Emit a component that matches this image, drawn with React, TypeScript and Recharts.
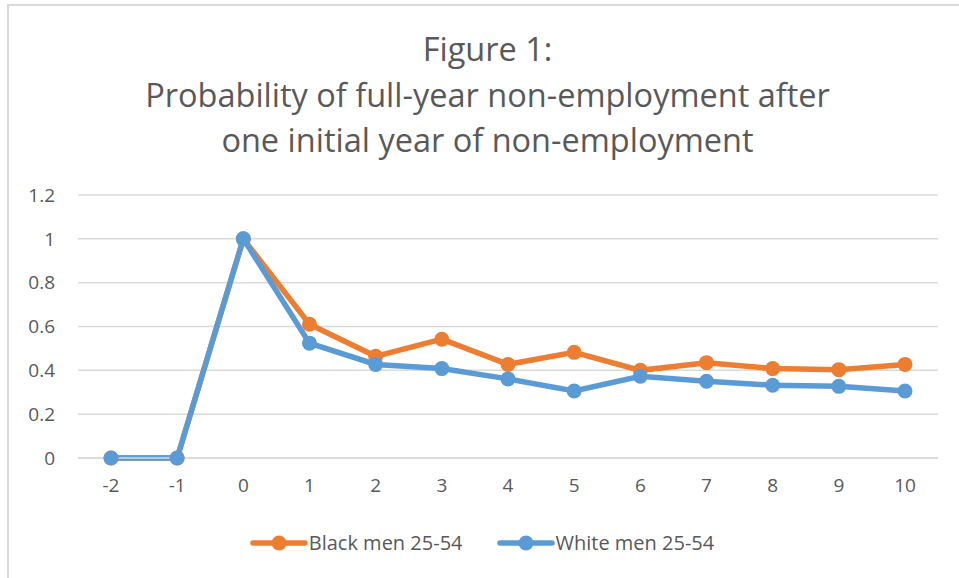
import React from "react";
import { LineChart, Line, XAxis, YAxis, CartesianGrid, Legend } from "recharts";

const years = ["-2", "-1", "0", "1", "2", "3", "4", "5", "6", "7", "8", "9", "10"];
const blackMen = [0, 0, 1, 0.61, 0.464, 0.542, 0.427, 0.482, 0.4, 0.435, 0.408, 0.403, 0.427];
const whiteMen = [0, 0, 1, 0.524, 0.427, 0.408, 0.361, 0.306, 0.373, 0.35, 0.332, 0.327, 0.306];
const yTicks = [0, 0.2, 0.4, 0.6, 0.8, 1, 1.2];

const data = years.map((year, i) => ({
  year,
  black: blackMen[i],
  white: whiteMen[i],
}));

const ORANGE = "#ED7D31";
const BLUE = "#5B9BD5";
const FONT = "'Open Sans', 'Noto Sans', sans-serif";

function LegendItem({ color, label }: { color: string; label: string }) {
  return (
    <div style={{ display: "flex", alignItems: "center", marginRight: 34 }}>
      <svg width={58} height={18}>
        <line x1={3} y1={9} x2={55} y2={9} stroke={color} strokeWidth={5.5} strokeLinecap="round" />
        <circle cx={29} cy={9} r={7.5} fill={color} />
      </svg>
      <span style={{ fontSize: 20, color: "#595959", marginLeft: 1 }}>{label}</span>
    </div>
  );
}

function renderLegend() {
  return (
    <div
      style={{
        display: "flex",
        justifyContent: "center",
        fontFamily: FONT,
        marginLeft: 60,
        paddingTop: 14,
      }}
    >
      <LegendItem color={ORANGE} label="Black men 25-54" />
      <LegendItem color={BLUE} label="White men 25-54" />
    </div>
  );
}

export default function App() {
  return (
    <div
      style={{
        position: "absolute",
        left: 0,
        top: 0,
        width: 959,
        height: 578,
        background: "#fff",
        overflow: "hidden",
        fontFamily: FONT,
      }}
    >
      <div
        style={{
          position: "absolute",
          left: 7,
          top: 4,
          width: 960,
          height: 580,
          borderTop: "2px solid #d9d9d9",
          borderLeft: "2px solid #d9d9d9",
        }}
      />
      <div
        style={{
          position: "absolute",
          left: 16,
          top: 26,
          width: 943,
          textAlign: "center",
          fontSize: 32.5,
          lineHeight: "45.5px",
          color: "#595959",
        }}
      >
        Figure 1:
        <br />
        Probability of full-year non-employment after
        <br />
        one initial year of non-employment
      </div>
      <div style={{ position: "absolute", left: 0, top: 0 }}>
        <LineChart
          width={959}
          height={578}
          data={data}
          margin={{ top: 195, right: 21, bottom: 0, left: 0 }}
        >
          <CartesianGrid vertical={false} stroke="#d9d9d9" strokeWidth={1.5} />
          <XAxis
            dataKey="year"
            padding={{ left: 33, right: 33 }}
            axisLine={{ stroke: "#d9d9d9", strokeWidth: 1.5 }}
            tickLine={false}
            tick={{ fill: "#595959", fontSize: 19, fontFamily: FONT }}
            tickMargin={15}
            height={57}
          />
          <YAxis
            domain={[0, 1.2]}
            ticks={yTicks}
            axisLine={false}
            tickLine={false}
            tick={{ fill: "#595959", fontSize: 19, fontFamily: FONT }}
            tickMargin={17}
            width={78}
          />
          <Legend verticalAlign="bottom" height={63} content={renderLegend} />
          <Line
            dataKey="black"
            name="Black men 25-54"
            stroke={ORANGE}
            strokeWidth={5.5}
            dot={{ r: 7.5, fill: ORANGE, stroke: ORANGE, strokeWidth: 0 }}
            activeDot={false}
            isAnimationActive={false}
          />
          <Line
            dataKey="white"
            name="White men 25-54"
            stroke={BLUE}
            strokeWidth={5.5}
            dot={{ r: 7.5, fill: BLUE, stroke: BLUE, strokeWidth: 0 }}
            activeDot={false}
            isAnimationActive={false}
          />
        </LineChart>
      </div>
    </div>
  );
}
